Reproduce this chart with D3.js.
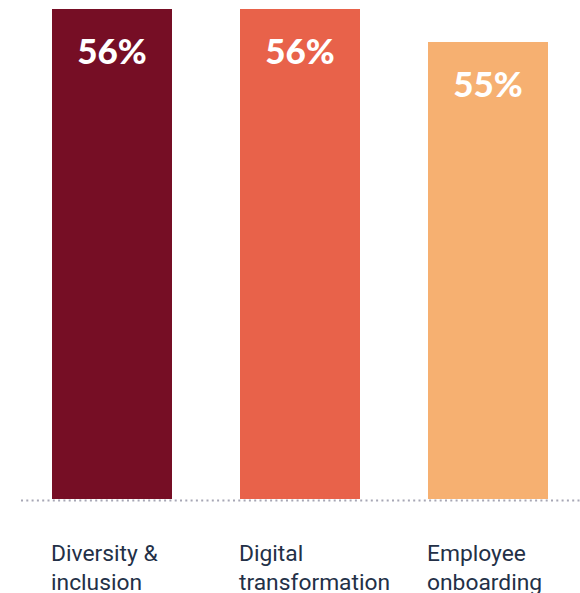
<!DOCTYPE html>
<html>
<head>
<meta charset="utf-8">
<script src="https://cdn.jsdelivr.net/npm/d3@7"></script>
<style>
  html, body { margin: 0; padding: 0; background: #ffffff; }
  svg { display: block; }
</style>
</head>
<body>
<svg id="chart" width="580" height="593"></svg>
<script>
// Share of respondents per initiative
const categories = ["Diversity & inclusion", "Digital transformation", "Employee onboarding"];
const labelLines = [["Diversity &", "inclusion"], ["Digital", "transformation"], ["Employee", "onboarding"]];
const values = [56, 56, 55];
const colors = ["#760e25", "#e8624a", "#f6b071"];

const svg = d3.select("#chart");
const baseY = 499;

const x = d3.scaleBand()
  .domain(categories)
  .range([52, 548])
  .paddingInner(0.3617)
  .paddingOuter(0);

// value axis starts above zero so small differences stay visible
const y = d3.scaleLinear()
  .domain([41.15, 56])
  .range([baseY, 9]);

// bars
svg.selectAll("rect.bar")
  .data(values)
  .join("rect")
  .attr("class", "bar")
  .attr("x", (d, i) => x(categories[i]))
  .attr("y", d => y(d))
  .attr("width", x.bandwidth())
  .attr("height", d => baseY - y(d))
  .attr("fill", (d, i) => colors[i]);

// dotted baseline
svg.append("line")
  .attr("x1", 21)
  .attr("x2", 580)
  .attr("y1", baseY + 1.5)
  .attr("y2", baseY + 1.5)
  .attr("stroke", "#a7a7b5")
  .attr("stroke-width", 2)
  .attr("stroke-dasharray", "2,3.3");

// value labels inside bars
svg.selectAll("text.value")
  .data(values)
  .join("text")
  .attr("class", "value")
  .attr("x", (d, i) => x(categories[i]) + x.bandwidth() / 2)
  .attr("y", d => y(d) + 55)
  .attr("text-anchor", "middle")
  .attr("fill", "#ffffff")
  .attr("font-family", "Lato, sans-serif")
  .attr("font-weight", 900)
  .attr("font-size", 35)
  .text(d => d + "%");

// category labels under the baseline
const cat = svg.selectAll("text.cat")
  .data(categories)
  .join("text")
  .attr("class", "cat")
  .attr("x", d => x(d) - 1)
  .attr("y", 561)
  .attr("fill", "#233047")
  .attr("font-family", "Roboto, sans-serif")
  .attr("font-size", 22.8);

cat.selectAll("tspan")
  .data((d, i) => labelLines[i].map(t => ({ t, x: x(d) - 1 })))
  .join("tspan")
  .attr("x", d => d.x)
  .attr("dy", (d, j) => j === 0 ? 0 : 28.5)
  .text(d => d.t);
</script>
</body>
</html>
